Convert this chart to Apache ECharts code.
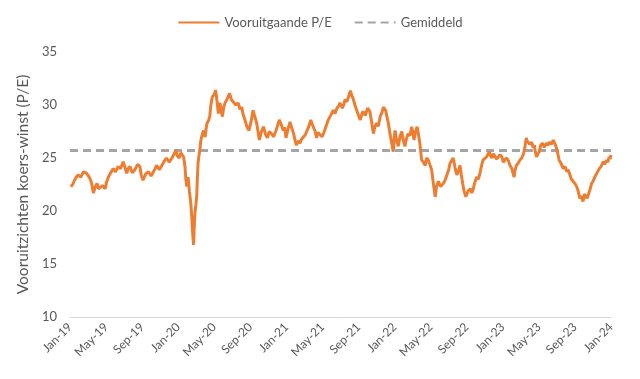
<!DOCTYPE html>
<html>
<head>
<meta charset="utf-8">
<script src="https://cdn.jsdelivr.net/npm/echarts@6/dist/echarts.min.js"></script>
<style>html,body{margin:0;padding:0;background:#fff}#c{width:640px;height:379px}</style>
</head>
<body>
<div id="c"></div>
<script>
// x position: months since Jan 2019 (one line per segment, matched with forwardPE below)
const months = [
  0.1,0.3,0.5,0.7,0.9,1.2,1.5,1.85,2.0,2.2,2.4,2.6,2.8,3.0,3.15,3.3,3.6,3.9,4.05,4.25,4.5,4.8,5.05,5.35,5.6,5.9,6.1,6.3,6.45,6.65,6.9,7.2,7.5,7.75,7.9,8.1,8.4,8.7,9.0,9.25,9.45,9.6,9.9,10.2,10.45,10.7,11.0,11.3,11.5,11.75,11.9,12.1,12.3,
  12.5,12.6,12.75,12.85,12.95,13.1,13.25,13.4,13.5,13.6,13.7,13.78,13.85,13.95,14.05,14.12,14.2,14.3,14.4,14.5,14.6,14.7,14.8,14.9,15.0,15.1,15.2,15.35,15.5,15.6,15.7,15.8,16.0,16.15,16.3,16.45,16.55,16.65,16.75,
  16.9,17.05,17.2,17.45,17.7,17.9,18.1,18.4,18.65,18.85,19.05,19.2,19.4,19.6,19.85,20.1,20.3,20.5,20.7,20.85,21.0,21.2,21.45,21.7,21.9,22.1,22.35,22.6,22.85,23.0,23.2,23.45,23.65,23.8,23.95,24.2,24.4,24.6,24.8,24.95,25.1,25.3,25.5,25.7,25.9,
  26.1,26.25,26.5,26.7,26.85,27.0,27.2,27.35,27.5,27.7,27.95,28.2,28.4,28.65,28.9,29.2,29.4,29.6,29.8,29.95,30.2,30.35,30.5,30.7,30.9,31.1,31.25,31.4,31.6,31.8,32.0,32.2,32.35,32.5,32.75,33.0,33.25,33.45,33.65,33.8,34.0,34.2,34.4,34.6,34.75,35.0,35.15,35.3,35.45,35.55,35.7,35.85,35.95,
  36.05,36.2,36.4,36.6,36.8,36.95,37.15,37.3,37.5,37.7,37.9,38.05,38.15,38.3,38.5,38.65,38.8,38.9,39.0,39.2,39.4,39.55,39.75,39.9,40.1,40.3,40.5,40.65,40.85,41.1,41.4,41.6,41.8,42.0,42.15,42.35,42.5,42.7,42.9,43.1,43.25,43.4,43.55,43.7,43.9,44.15,44.4,44.55,44.7,44.9,45.1,45.3,45.5,45.65,45.8,46.0,46.2,46.35,46.5,46.65,46.8,46.95,47.1,47.3,47.5,47.7,47.9,
  48.05,48.25,48.4,48.6,48.8,49.0,49.25,49.35,49.5,49.7,49.9,50.1,50.3,50.45,50.6,50.7,50.8,51.0,51.2,51.35,51.5,51.6,51.75,51.9,52.05,52.2,52.4,52.6,52.85,53.0,53.2,53.4,53.6,53.75,53.9,54.05,54.25,54.45,54.7,54.9,55.1,55.25,55.45,55.6,55.8,56.0,56.2,56.35,56.55,56.7,56.9,57.05,57.2,57.35,57.5,57.7,57.85,58.0,58.2,58.45,58.7,58.9,59.15,59.3,59.5,59.65,59.8,59.9,60.0
];
const forwardPE = [
  22.3,22.5,22.9,23.2,23.4,23.2,23.7,23.55,23.6,23.1,22.6,21.7,22.3,22.6,22.1,22.0,22.4,22.1,22.7,23.2,23.6,24.0,23.7,24.2,24.0,24.65,24.1,23.55,24.0,24.2,23.6,23.9,24.4,24.2,23.4,22.9,23.5,23.7,23.3,23.7,24.0,24.3,23.9,24.3,24.7,25.0,24.6,25.0,25.3,25.75,25.2,25.0,25.5,
  25.4,25.1,24.2,23.0,22.3,23.2,21.8,20.7,19.5,18.0,16.8,18.5,19.8,20.5,21.35,23.0,24.5,25.2,25.75,26.6,27.0,27.3,27.6,27.2,27.0,27.8,28.3,28.5,28.9,29.8,30.4,30.8,31.0,31.4,30.4,29.2,29.9,30.2,29.5,
  28.9,29.8,30.2,30.6,31.1,30.5,30.6,30.0,30.2,29.6,29.8,29.1,28.6,28.0,27.6,28.5,29.5,28.9,28.3,27.5,26.7,27.4,27.95,27.2,26.9,27.5,27.3,27.0,27.6,28.0,28.6,28.1,27.6,27.9,26.9,27.8,28.4,27.8,27.3,26.7,26.2,26.6,26.4,26.8,26.9,
  27.2,27.5,28.0,28.6,28.2,28.1,27.5,26.9,27.4,27.3,27.0,27.5,28.0,28.6,29.0,29.5,29.2,29.7,29.9,30.2,29.7,30.0,30.5,30.3,30.8,31.35,30.9,30.6,30.0,29.5,29.0,28.6,29.1,29.4,29.0,29.7,29.4,28.4,27.3,27.9,28.3,28.0,28.9,29.3,29.8,29.5,28.9,28.3,27.5,27.0,26.3,25.6,26.8,
  27.6,26.8,26.1,27.0,27.5,26.7,26.1,26.8,27.3,27.1,27.95,27.3,26.7,27.4,27.95,27.2,26.4,25.6,24.8,24.6,24.3,25.0,24.8,24.4,23.9,22.6,21.35,22.3,22.8,22.3,22.6,22.9,23.4,23.9,24.5,24.8,25.0,24.1,23.4,23.8,24.3,23.4,22.6,21.9,21.35,21.9,22.1,21.7,22.0,22.7,23.2,23.0,23.7,24.3,24.8,24.7,25.1,25.0,25.6,25.2,25.0,25.4,25.3,24.9,25.0,25.3,25.1,
  24.6,24.65,25.0,24.8,24.3,24.0,23.2,23.8,24.3,24.5,24.8,25.0,25.4,26.0,26.9,26.6,26.7,26.3,26.5,26.0,26.2,25.6,25.1,25.4,25.6,26.2,26.4,26.0,26.4,26.2,26.5,26.3,26.7,26.6,26.1,25.6,24.8,24.5,24.0,24.2,23.7,23.9,23.4,23.0,22.8,22.6,22.3,21.9,21.2,21.4,20.9,21.6,21.7,21.2,21.35,22.1,22.6,22.8,23.2,23.6,24.0,24.2,24.65,24.4,24.8,24.6,25.1,24.9,25.3
];
const averagePE = 25.7;
const tickLabels = ['Jan-19','May-19','Sep-19','Jan-20','May-20','Sep-20','Jan-21','May-21','Sep-21','Jan-22','May-22','Sep-22','Jan-23','May-23','Sep-23','Jan-24'];
const seriesNames = ['Vooruitgaande P/E','Gemiddeld'];
const yTitle = 'Vooruitzichten koers-winst (P/E)';

const peData = months.map((m,i)=>[m, forwardPE[i]]);
const avgData = [[0, averagePE],[60, averagePE]];
const font = 'Lato, "Open Sans", sans-serif';
const chart = echarts.init(document.getElementById('c'), null, {renderer:'canvas'});
chart.setOption({
  animation:false,
  textStyle:{fontFamily:font},
  legend:{
    top:11, left:'center',
    itemWidth:41, itemHeight:4, itemGap:22,
    itemStyle:{opacity:0},
    textStyle:{color:'#595959', fontSize:13, fontFamily:font},
    data:seriesNames
  },
  grid:{left:70, right:29, top:52, bottom:62, containLabel:false},
  xAxis:{
    type:'value', min:0, max:60, interval:4,
    axisLine:{lineStyle:{color:'#d9d9d9', width:1}},
    axisTick:{show:false},
    splitLine:{show:false},
    axisLabel:{rotate:45, color:'#595959', fontSize:12, margin:8, fontFamily:font,
      formatter:v=>tickLabels[Math.round(v/4)] || ''}
  },
  yAxis:{
    type:'value', min:10, max:35, interval:5,
    name:yTitle, nameLocation:'middle', nameGap:35, nameRotate:90,
    nameTextStyle:{color:'#595959', fontSize:15.5, fontFamily:font},
    axisLine:{show:false}, axisTick:{show:false},
    splitLine:{show:false},
    axisLabel:{color:'#595959', fontSize:13, margin:13, fontFamily:font}
  },
  series:[
    {name:seriesNames[0], type:'line', data:peData, showSymbol:false, symbol:'none',
     lineStyle:{color:'#ED7D31', width:3}, itemStyle:{color:'#ED7D31'}, z:3},
    {name:seriesNames[1], type:'line', data:avgData, showSymbol:false, symbol:'none',
     lineStyle:{color:'#A5A5A5', width:3, type:[8,5]}, itemStyle:{color:'#A5A5A5'}, z:2}
  ]
});
</script>
</body>
</html>
